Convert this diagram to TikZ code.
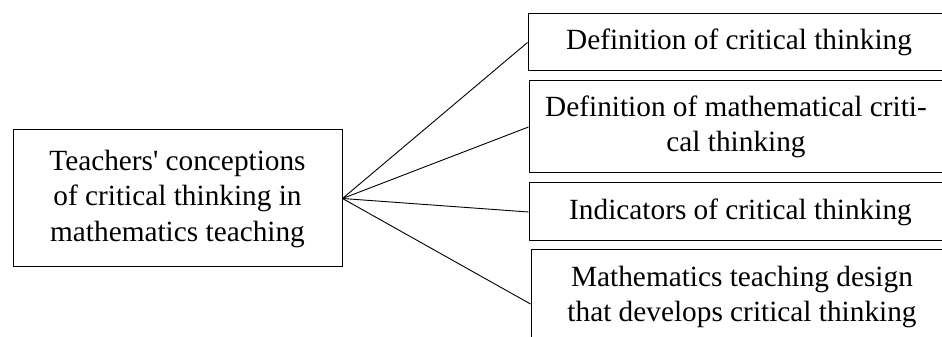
\documentclass[tikz,border=0pt]{standalone}
\usepackage{fontspec}
\setmainfont{Liberation Serif}

\begin{document}
\begin{tikzpicture}[x=1pt, y=1pt,
    topic/.style={draw, line width=1pt, align=center, inner sep=4pt,
        font=\fontsize{29.3}{35.5}\selectfont},
    link/.style={line width=0.9pt}]
    \useasboundingbox (0,0) rectangle (942,337);
    \clip (0,0) rectangle (942,337);

    \node[topic, minimum width=329pt, minimum height=137pt] (root) at (177.5,138.5)
        {Teachers\textquotesingle{} conceptions\\of critical thinking in\\mathematics teaching};

    \node[topic, minimum width=422pt, minimum height=57pt] (def) at (739,294.5)
        {Definition of critical thinking};
    \node[topic, minimum width=414pt, minimum height=92pt] (mathdef) at (736,210)
        {Definition of mathematical criti-\\cal thinking};
    \node[topic, minimum width=423pt, minimum height=58pt] (ind) at (740.5,125)
        {Indicators of critical thinking};
    \node[topic, minimum width=422pt, minimum height=94pt] (design) at (742,40)
        {Mathematics teaching design\\that develops critical thinking};

    \draw[link] (root.east) -- (def.west);
    \draw[link] (root.east) -- (mathdef.west);
    \draw[link] (root.east) -- (ind.west);
    \draw[link] (root.east) -- ([yshift=-7pt]design.west);
\end{tikzpicture}
\end{document}
